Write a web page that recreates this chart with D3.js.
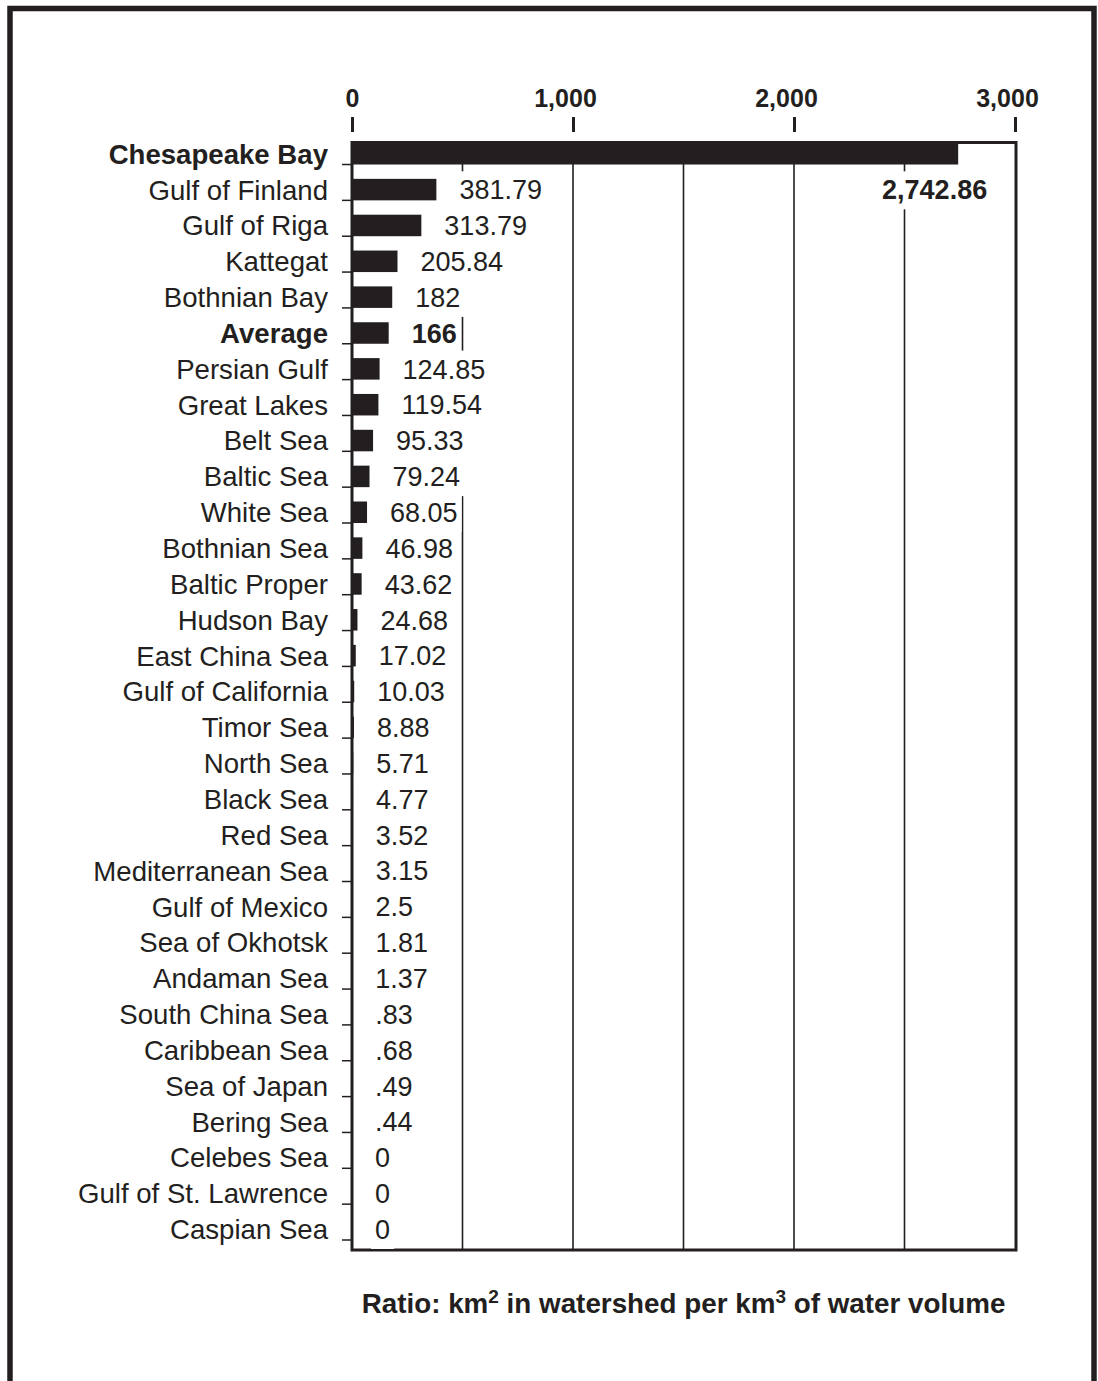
<html>
<head>
<title>Watershed ratio</title>
<meta charset="utf-8">
<style type="text/css">
body { margin: 0; background: #fff; }
text { font-family: "Liberation Sans", Arial, Helvetica, sans-serif; fill: #231f20; }
</style>
</head>
<body>
<script src="https://d3js.org/d3.v7.min.js"></script>
<script>

// data
var seas = ["Chesapeake Bay", "Gulf of Finland", "Gulf of Riga", "Kattegat", "Bothnian Bay",
  "Average", "Persian Gulf", "Great Lakes", "Belt Sea", "Baltic Sea", "White Sea",
  "Bothnian Sea", "Baltic Proper", "Hudson Bay", "East China Sea", "Gulf of California",
  "Timor Sea", "North Sea", "Black Sea", "Red Sea", "Mediterranean Sea", "Gulf of Mexico",
  "Sea of Okhotsk", "Andaman Sea", "South China Sea", "Caribbean Sea", "Sea of Japan",
  "Bering Sea", "Celebes Sea", "Gulf of St. Lawrence", "Caspian Sea"];
var ratios = [2742.86, 381.79, 313.79, 205.84, 182, 166, 124.85, 119.54, 95.33, 79.24, 68.05,
  46.98, 43.62, 24.68, 17.02, 10.03, 8.88, 5.71, 4.77, 3.52, 3.15, 2.5, 1.81, 1.37,
  0.83, 0.68, 0.49, 0.44, 0, 0, 0];
var boldRows = ["Chesapeake Bay", "Average"];
var axisTicks = [0, 1000, 2000, 3000];
var gridValues = [500, 1000, 1500, 2000, 2500];

var data = seas.map(function(s, i) { return {name: s, value: ratios[i]}; });

var W = 1098, H = 1381;
var ink = "#231f20";

var svg = d3.select("body").append("svg")
    .attr("width", W)
    .attr("height", H);

svg.append("rect").attr("width", W).attr("height", H).attr("fill", "#fff");

// outer frame (bottom edge runs off the page)
svg.append("rect")
    .attr("x", 10).attr("y", 8.5)
    .attr("width", 1084).attr("height", 1500)
    .attr("fill", "none")
    .attr("stroke", ink)
    .attr("stroke-width", 5.5);

var x = d3.scaleLinear()
    .domain([0, 3000])
    .range([352, 1015]);
var y = d3.scaleBand()
    .domain(seas)
    .range([143, 1240])
    .paddingInner(0.4)
    .paddingOuter(0);

var boxTop = 142.5, boxBottom = 1250;

// gridlines
svg.append("g").selectAll("line")
    .data(gridValues)
    .enter().append("line")
    .attr("x1", function(d) { return x(d); })
    .attr("x2", function(d) { return x(d); })
    .attr("y1", boxTop)
    .attr("y2", boxBottom)
    .attr("stroke", ink)
    .attr("stroke-width", 1.6);

// top axis
var xAxis = svg.append("g")
    .attr("transform", "translate(0,132)")
    .call(d3.axisTop(x).tickValues(axisTicks).tickSize(15).tickPadding(10).tickFormat(d3.format(",")));
xAxis.select(".domain").remove();
xAxis.selectAll(".tick line").attr("stroke", ink).attr("stroke-width", 3);
xAxis.selectAll(".tick text")
    .attr("fill", ink)
    .attr("dx", function(d) { return d > 0 ? -8 : 0; })
    .style("font-size", "25px")
    .style("font-weight", "bold")
    .style("font-family", "'Liberation Sans', Arial, sans-serif");

// bars
svg.append("g").selectAll("rect")
    .data(data)
    .enter().append("rect")
    .attr("x", x(0))
    .attr("y", function(d) { return y(d.name); })
    .attr("width", function(d) { return x(d.value) - x(0); })
    .attr("height", y.bandwidth())
    .attr("fill", ink);

// plot box
svg.append("rect")
    .attr("x", x(0))
    .attr("y", boxTop)
    .attr("width", x(3000) - x(0) + 1)
    .attr("height", boxBottom - boxTop)
    .attr("fill", "none")
    .attr("stroke", ink)
    .attr("stroke-width", 3);

// small ticks on the left
svg.append("g").selectAll("line")
    .data(data)
    .enter().append("line")
    .attr("x1", x(0) - 10)
    .attr("x2", x(0))
    .attr("y1", function(d) { return y(d.name) + y.bandwidth(); })
    .attr("y2", function(d) { return y(d.name) + y.bandwidth(); })
    .attr("stroke", ink)
    .attr("stroke-width", 1.5);

// category labels
svg.append("g").selectAll("text")
    .data(data)
    .enter().append("text")
    .attr("x", 328)
    .attr("y", function(d) { return y(d.name) + y.bandwidth() / 2; })
    .attr("dy", "0.36em")
    .attr("text-anchor", "end")
    .style("font-size", "27.6px")
    .style("font-weight", function(d) { return boldRows.indexOf(d.name) >= 0 ? "bold" : "normal"; })
    .text(function(d) { return d.name; });

// value labels with white backing
var fmt = function(v) { return d3.format(",")(v).replace(/^0\./, "."); };
var vals = svg.append("g").selectAll("g")
    .data(data)
    .enter().append("g");
vals.append("text")
    .attr("x", function(d) {
      return d.value > 2000 ? x(d.value) + 29 : x(d.value) + 23;
    })
    .attr("y", function(d, i) {
      // the long bar carries its label one row down
      var yy = y(d.name) + y.bandwidth() / 2;
      return d.value > 2000 ? yy + y.step() : yy;
    })
    .attr("dy", "0.36em")
    .attr("text-anchor", function(d) { return d.value > 2000 ? "end" : "start"; })
    .style("font-size", "27px")
    .style("font-weight", function(d) { return boldRows.indexOf(d.name) >= 0 ? "bold" : "normal"; })
    .text(function(d) { return fmt(d.value); });
vals.each(function() {
  var g = d3.select(this);
  var b = g.select("text").node().getBBox();
  g.insert("rect", "text")
    .attr("x", b.x - 4).attr("y", b.y - 4)
    .attr("width", b.width + 8).attr("height", b.height + 8)
    .attr("fill", "#fff");
});

// axis title
var title = svg.append("text")
    .attr("x", (x(0) + x(3000)) / 2)
    .attr("y", 1313)
    .attr("text-anchor", "middle")
    .style("font-size", "27.8px")
    .style("font-weight", "bold");
title.append("tspan").text("Ratio: km");
title.append("tspan").attr("dy", -10).style("font-size", "19px").text("2");
title.append("tspan").attr("dy", 10).text(" in watershed per km");
title.append("tspan").attr("dy", -10).style("font-size", "19px").text("3");
title.append("tspan").attr("dy", 10).text(" of water volume");

</script>
</body>
</html>
